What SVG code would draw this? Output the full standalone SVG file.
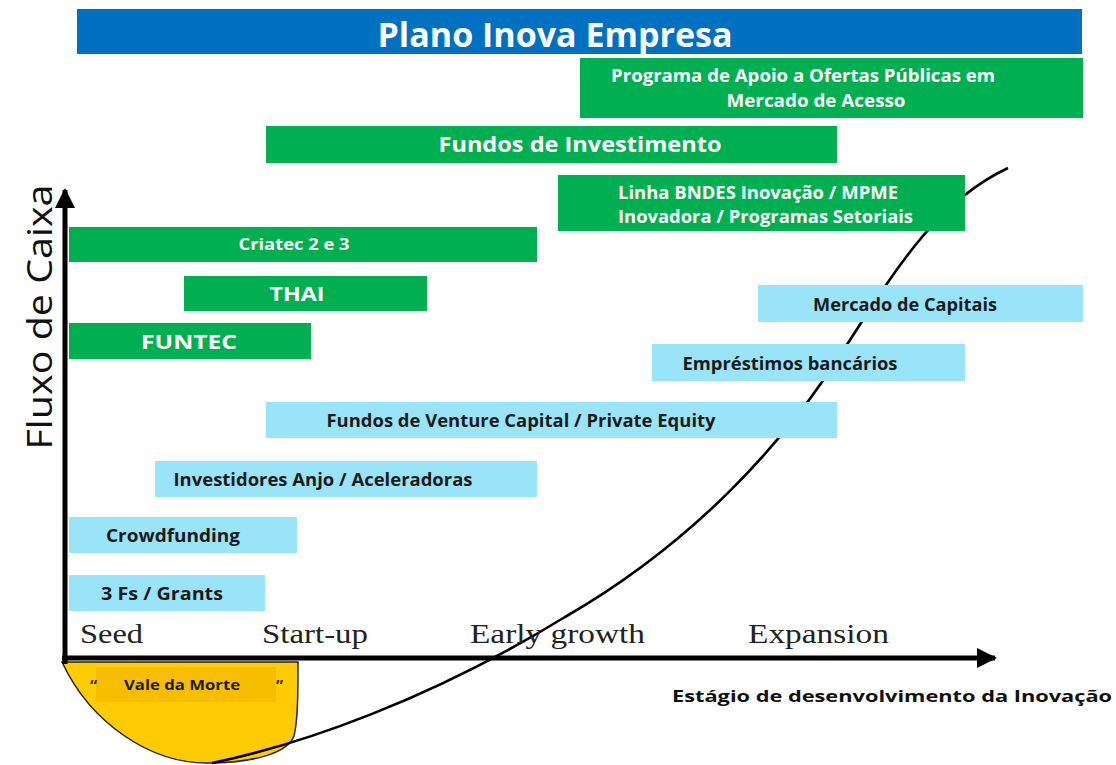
<svg xmlns="http://www.w3.org/2000/svg" width="1116" height="765" viewBox="0 0 1116 765">
<defs>
<style>
.g{fill:#00B050}
.b{fill:#99E4F8}
.tw{fill:#fff;font-family:"Open Sans","DejaVu Sans",sans-serif;font-weight:bold;text-anchor:middle}
.tk{fill:#1a1a1a;font-family:"Open Sans","DejaVu Sans",sans-serif;font-weight:bold;text-anchor:middle}
.st{fill:#222;font-family:"Liberation Serif","Times New Roman",serif;font-size:28px}
</style>
<marker id="ah" viewBox="0 0 10 10" refX="9" refY="5" markerWidth="4" markerHeight="4" orient="auto" markerUnits="strokeWidth">
<path d="M0,0 L10,5 L0,10 Z" fill="#000"/>
</marker>
</defs>
<rect width="1116" height="765" fill="#fff"/>

<g id="vale-da-morte">
<path d="M62,662 C90,722 150,765 212,763 C258,762 288,752 294,736 C298,720 298,690 298,662 Z" fill="#FFCB05" stroke="#222" stroke-width="1.5"/>
<rect x="96" y="667" width="180" height="35" fill="#F7BE00"/>
<text x="90" y="692" font-family="'Open Sans',sans-serif" font-weight="bold" font-size="16" fill="#3a2a00">“</text>
<text x="182" y="690" font-family="'Open Sans',sans-serif" font-weight="bold" font-size="14" fill="#1a1a1a" text-anchor="middle" textLength="116" lengthAdjust="spacingAndGlyphs">Vale da Morte</text>
<text x="276" y="692" font-family="'Open Sans',sans-serif" font-weight="bold" font-size="16" fill="#3a2a00">”</text>
</g>

<g id="connectors">
<path d="M212,763 C300,745 430,700 565,617 C690,545 785,445 850,340 C900,262 940,200 1008,168" fill="none" stroke="#000" stroke-width="2.6"/>
<line x1="65" y1="664" x2="65" y2="190" stroke="#000" stroke-width="5" marker-end="url(#ah)"/>
<line x1="62" y1="658" x2="995" y2="658" stroke="#000" stroke-width="5" marker-end="url(#ah)"/>
</g>

<g id="title">
<rect x="77" y="9" width="1005" height="45" fill="#0070C0"/>
<text class="tw" x="555" y="47" font-size="34" textLength="355" lengthAdjust="spacingAndGlyphs">Plano Inova Empresa</text>
</g>

<g id="ofertas-publicas">
<rect class="g" x="580" y="58" width="503" height="60"/>
<text class="tw" x="803" y="82" font-size="18" textLength="384" lengthAdjust="spacingAndGlyphs">Programa de Apoio a Ofertas Públicas em</text>
<text class="tw" x="816" y="107" font-size="18" textLength="179" lengthAdjust="spacingAndGlyphs">Mercado de Acesso</text>
</g>

<g id="fundos-investimento">
<rect class="g" x="266" y="126" width="571" height="37"/>
<text class="tw" x="580" y="152" font-size="21" textLength="283" lengthAdjust="spacingAndGlyphs">Fundos de Investimento</text>
</g>

<g id="linha-bndes">
<rect class="g" x="558" y="175" width="407" height="56"/>
<text class="tw" x="618" y="199" font-size="17" style="text-anchor:start" textLength="280" lengthAdjust="spacingAndGlyphs">Linha BNDES Inovação / MPME</text>
<text class="tw" x="618" y="223" font-size="17" style="text-anchor:start" textLength="295" lengthAdjust="spacingAndGlyphs">Inovadora / Programas Setoriais</text>
</g>

<g id="criatec">
<rect class="g" x="69" y="227" width="468" height="35"/>
<text class="tw" x="294" y="250" font-size="16" font-weight="600" textLength="111" lengthAdjust="spacingAndGlyphs">Criatec 2 e 3</text>
</g>

<g id="thai">
<rect class="g" x="184" y="276" width="243" height="35"/>
<text class="tw" x="297" y="301" font-size="20" textLength="55" lengthAdjust="spacingAndGlyphs">THAI</text>
</g>

<g id="funtec">
<rect class="g" x="69" y="323" width="242" height="36"/>
<text class="tw" x="189" y="349" font-size="20" textLength="96" lengthAdjust="spacingAndGlyphs">FUNTEC</text>
</g>

<g id="mercado-capitais">
<rect class="b" x="758" y="285" width="325" height="37"/>
<text class="tk" x="905" y="311" font-size="17" textLength="184" lengthAdjust="spacingAndGlyphs">Mercado de Capitais</text>
</g>

<g id="emprestimos">
<rect class="b" x="652" y="344" width="313" height="37"/>
<text class="tk" x="790" y="370" font-size="17" textLength="215" lengthAdjust="spacingAndGlyphs">Empréstimos bancários</text>
</g>

<g id="venture-capital">
<rect class="b" x="266" y="402" width="571" height="36"/>
<text class="tk" x="521" y="427" font-size="17" textLength="389" lengthAdjust="spacingAndGlyphs">Fundos de Venture Capital / Private Equity</text>
</g>

<g id="investidores-anjo">
<rect class="b" x="155" y="461" width="382" height="36"/>
<text class="tk" x="323" y="486" font-size="17" textLength="299" lengthAdjust="spacingAndGlyphs">Investidores Anjo / Aceleradoras</text>
</g>

<g id="crowdfunding">
<rect class="b" x="69" y="517" width="228" height="36"/>
<text class="tk" x="173" y="542" font-size="17" textLength="134" lengthAdjust="spacingAndGlyphs">Crowdfunding</text>
</g>

<g id="grants">
<rect class="b" x="69" y="575" width="196" height="36"/>
<text class="tk" x="162" y="600" font-size="17" textLength="122" lengthAdjust="spacingAndGlyphs">3 Fs  / Grants</text>
</g>

<g id="stages">
<text class="st" x="80" y="643" textLength="63" lengthAdjust="spacingAndGlyphs">Seed</text>
<text class="st" x="262" y="643" textLength="106" lengthAdjust="spacingAndGlyphs">Start-up</text>
<text class="st" x="470" y="643" textLength="175" lengthAdjust="spacingAndGlyphs">Early growth</text>
<text class="st" x="748" y="643" textLength="141" lengthAdjust="spacingAndGlyphs">Expansion</text>
</g>

<g id="axis-labels">
<text x="317" y="52" transform="rotate(-90 52 317) translate(-265 265)" font-family="'Open Sans',sans-serif" font-size="34" fill="#111" text-anchor="middle" textLength="265" lengthAdjust="spacingAndGlyphs">Fluxo de Caixa</text>
<text x="892" y="702" font-family="'Open Sans',sans-serif" font-weight="bold" font-size="16" fill="#111" text-anchor="middle" textLength="440" lengthAdjust="spacingAndGlyphs">Estágio de desenvolvimento da Inovação</text>
</g>
</svg>
